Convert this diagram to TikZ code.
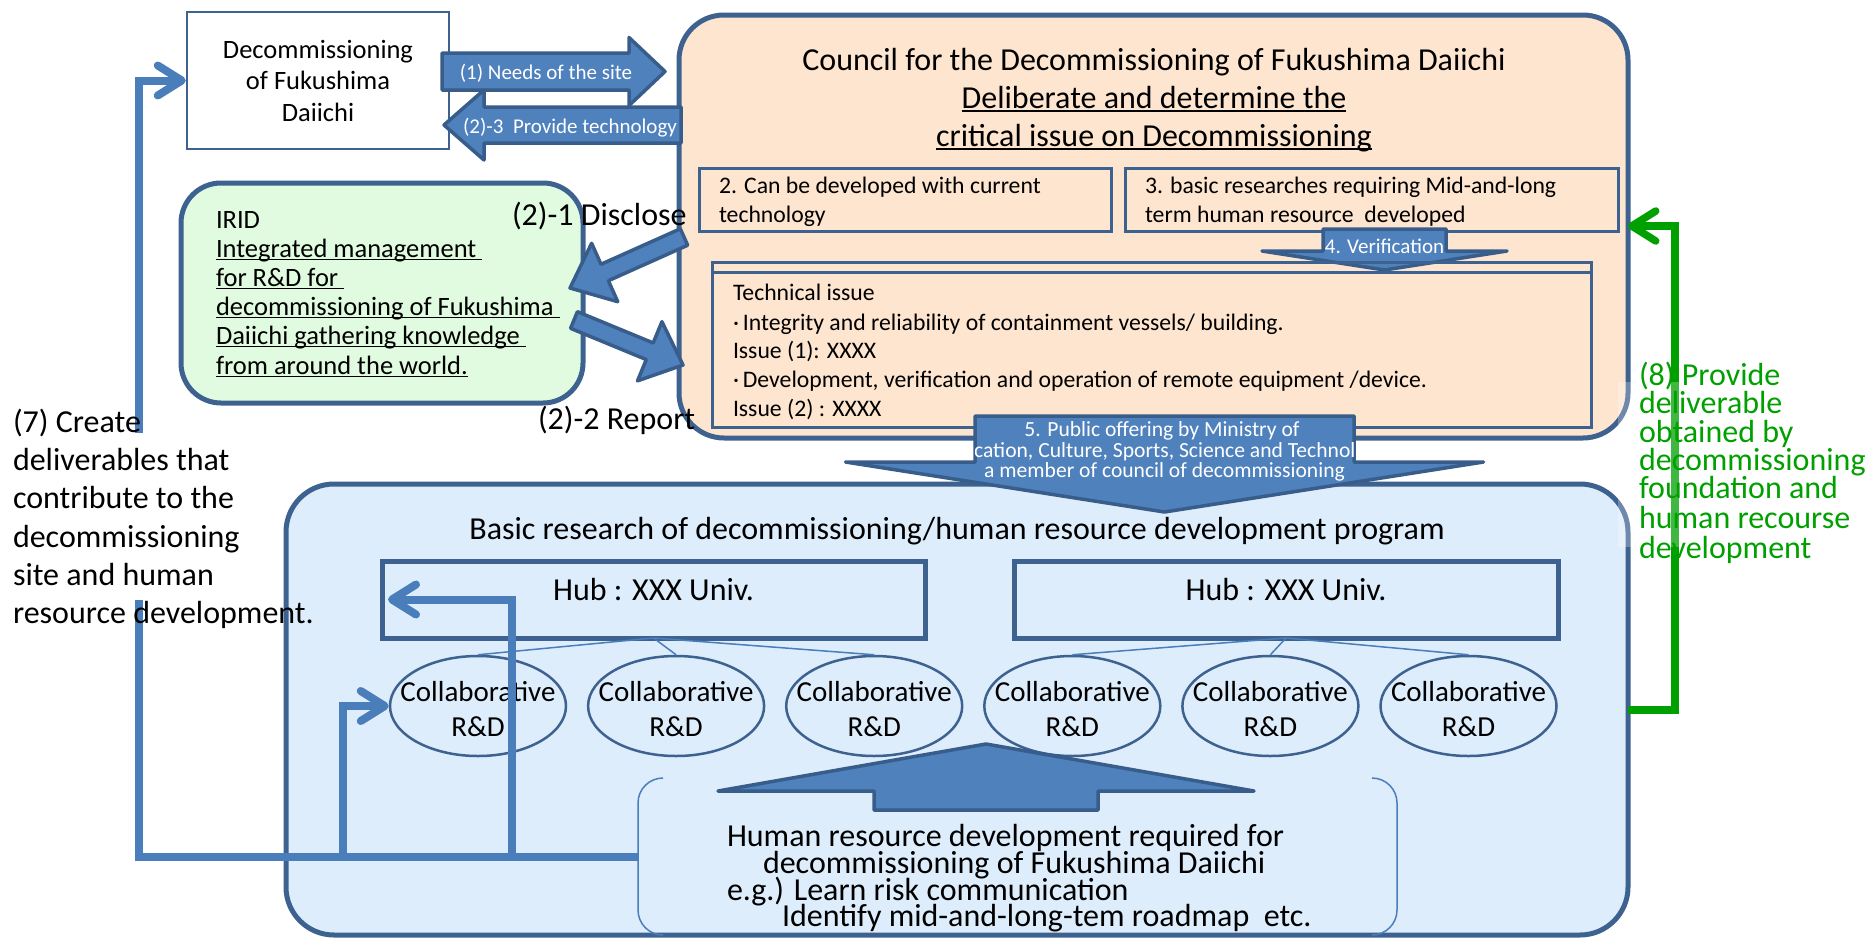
\documentclass[tikz,border=0pt]{standalone}
\usepackage{fontspec}
\setmainfont{Carlito}
\usetikzlibrary{calc,arrows.meta,shapes.geometric}
\definecolor{arrfill}{HTML}{4F81BD}
\definecolor{arrline}{HTML}{385D8A}
\definecolor{boxline}{HTML}{3E6290}
\definecolor{conn}{HTML}{4A7EBB}
\definecolor{peach}{HTML}{FDE5CF}
\definecolor{mint}{HTML}{E0FBDF}
\definecolor{skyfill}{HTML}{DEEDFC}
\definecolor{grn}{HTML}{00A000}
\newcommand\fsz[2]{\fontsize{#1pt}{#2pt}\selectfont}
\newcommand\myul[1]{\setbox0=\hbox{#1}\leavevmode\rlap{\rule[-0.12em]{\wd0}{0.055em}}\box0}
\newcommand\blockarrow[6]{%
  \coordinate (#2h) at ($(#3)!#6!(#2)$);
  \path[#1] ($(#2)!#4!90:(#3)$) -- ($(#2h)!#4!90:(#3)$) -- ($(#2h)!#5!90:(#3)$) -- (#3)
    -- ($(#2h)!#5!-90:(#3)$) -- ($(#2h)!#4!-90:(#3)$) -- ($(#2)!#4!-90:(#3)$) -- cycle;}
\begin{document}
\begin{tikzpicture}[x=1pt,y=-1pt,
  tx/.style={inner sep=0pt,outer sep=0pt},
  f32/.style={font=\fsz{32}{38}},
  f26/.style={font=\fsz{26.5}{31.5}},
  f24/.style={font=\fsz{23.7}{28}},
  f29/.style={font=\fsz{29}{35}},
  f21/.style={font=\fsz{21}{21}},
  f22/.style={font=\fsz{21.6}{21}},
  bigbox/.style={draw=boxline,line width=5pt,inner sep=0pt,outer sep=0pt},
  midbox/.style={draw=boxline,line width=3pt,inner sep=0pt,outer sep=0pt},
  hubbox/.style={draw=boxline,line width=5pt,inner sep=0pt,outer sep=0pt},
  ell/.style={ellipse,draw=boxline,line width=2.5pt,inner sep=0pt,minimum width=176pt,minimum height=100pt},
  blk/.style={fill=arrfill,draw=arrline,line width=3.5pt,line join=round},
  brk/.style={draw=conn,line width=1.5pt,rounded corners=25pt},
  hubline/.style={draw=conn,line width=1.5pt},
  c7line/.style={draw=conn,line width=8pt},
  g8line/.style={draw=grn,line width=7.5pt},
  chev/.style={-{Straight Barb[length=24pt,width=30pt,round]}}
]
\useasboundingbox (0,0) rectangle (1868,937);
\fill[white] (0,0) rectangle (1868,937);

% ---- main boxes
\node[bigbox,fill=skyfill,rounded corners=48pt,minimum width=1342pt,minimum height=451pt] (bottom) at (957,709.5) {};
\node[bigbox,fill=peach,rounded corners=45pt,minimum width=949pt,minimum height=423pt] (council) at (1153.5,226.5) {};
\node[bigbox,fill=mint,rounded corners=40pt,minimum width=402pt,minimum height=220pt] (irid) at (382,293) {};
\node[draw=boxline,line width=2.5pt,fill=white,minimum width=262pt,minimum height=137pt,inner sep=0pt,align=center,f26] (dec) at (318,80.5) {Decommissioning\\of Fukushima\\Daiichi};

% ---- council contents
\node[tx,anchor=base,f32] (ct1) at (1154,70) {Council for the Decommissioning of Fukushima Daiichi};
\node[tx,anchor=base,f32] (ct2) at (1154,108) {\myul{Deliberate and determine the}};
\node[tx,anchor=base,f32] (ct3) at (1154,146) {\myul{critical issue on Decommissioning}};
\node[midbox,minimum width=412pt,minimum height=63pt] (box2) at (905,199.5) {};
\node[midbox,minimum width=493pt,minimum height=63pt] (box3) at (1371.5,199.5) {};
\node[tx,anchor=base west,f24] (b2a) at (719,193) {2. Can be developed with current};
\node[tx,anchor=base west,f24] (b2b) at (719,222) {technology};
\node[tx,anchor=base west,f24] (b3a) at (1145,193) {3. basic researches requiring Mid-and-long};
\node[tx,anchor=base west,f24] (b3b) at (1145,222) {term human resource\ \ developed};
\coordinate (vT) at (1384.5,229);
\coordinate (vP) at (1384.5,270);
\blockarrow{blk}{vT}{vP}{61.5pt}{122.5pt}{19pt}
\node[tx,anchor=base,f21,text=white] (vtx) at (1384.5,253) {4. Verification};
\node[midbox,minimum width=879pt,minimum height=165pt] (tech) at (1151.5,344.5) {};
\draw[draw=boxline,line width=3pt] ($(tech.north west)+(0,10)$) -- ($(tech.north east)+(0,10)$);
\node[tx,anchor=base west,f24] (tc1) at (733,300) {Technical issue};
\node[tx,anchor=base west,f24] (tc2) at (733,330) {·\,Integrity and reliability of containment vessels/ building.};
\node[tx,anchor=base west,f24] (tc3) at (733,358) {Issue (1): XXXX};
\node[tx,anchor=base west,f24] (tc4) at (733,387) {·\,Development, verification and operation of remote equipment /device.};
\node[tx,anchor=base west,f24] (tc5) at (733,416) {Issue (2) : XXXX};

% ---- IRID contents
\node[tx,anchor=base west,f26] (ir1) at (216,228) {IRID};
\node[tx,anchor=base west,f26] (ir2) at (216,257) {\myul{Integrated management\ }};
\node[tx,anchor=base west,f26] (ir3) at (216,286) {\myul{for R\&D for\ }};
\node[tx,anchor=base west,f26] (ir4) at (216,315) {\myul{decommissioning of Fukushima\ }};
\node[tx,anchor=base west,f26] (ir5) at (216,344) {\myul{Daiichi gathering knowledge\ }};
\node[tx,anchor=base west,f26] (ir6) at (216,374) {\myul{from around the world.}};

% ---- bottom box contents
\node[tx,anchor=base,f32] (btitle) at (957,539) {Basic research of decommissioning/human resource development program};
\node[hubbox,minimum width=543pt,minimum height=77pt] (hubL) at (653.5,599.5) {};
\node[hubbox,minimum width=544pt,minimum height=77pt] (hubR) at (1286,599.5) {};
\node[tx,anchor=base,f32] (hubLt) at (653.5,600) {Hub : XXX Univ.};
\node[tx,anchor=base,f32] (hubRt) at (1286,600) {Hub : XXX Univ.};
\foreach \i/\xx in {1/478,2/676.1,3/874.2,4/1072.3,5/1270.4,6/1468.5}{
  \node[ell] (e\i) at (\xx,706) {};
}
\foreach \i in {1,2,3}{\draw[hubline] (hubL.south) -- (e\i.north);}
\foreach \i in {4,5,6}{\draw[hubline] (hubR.south) -- (e\i.north);}
\foreach \i/\xx in {1/478,2/676.1,3/874.2,4/1072.3,5/1270.4,6/1468.5}{
  \node[tx,anchor=base,f29] (e\i a) at (\xx,701) {Collaborative};
  \node[tx,anchor=base,f29] (e\i b) at (\xx,736) {R\&D};
}
\node[minimum width=759pt,minimum height=157pt,inner sep=0pt,outer sep=0pt] (bracket) at (1017.5,856.5) {};
\draw[brk] ([xshift=25pt]bracket.north west) -- (bracket.north west) -- (bracket.south west) -- ([xshift=25pt]bracket.south west);
\draw[brk] ([xshift=-25pt]bracket.north east) -- (bracket.north east) -- (bracket.south east) -- ([xshift=-25pt]bracket.south east);
\node[tx,anchor=base west,font=\fsz{32}{27}] (hr1) at (727,846) {Human resource development required for};
\node[tx,anchor=base west,font=\fsz{32}{27}] (hr2) at (763,873) {decommissioning of Fukushima Daiichi};
\node[tx,anchor=base west,font=\fsz{32}{27}] (hr3) at (727,900) {e.g.) Learn risk communication};
\node[tx,anchor=base west,font=\fsz{32}{27}] (hr4) at (782,926) {Identify mid-and-long-tem roadmap\ \ etc.};

% ---- block arrows
\coordinate (nT) at (442,71.5);  \coordinate (nP) at (665,71.5);
\blockarrow{blk}{nT}{nP}{18.5pt}{34pt}{36pt}
\node[tx,anchor=base,f21,text=white] (needs) at (546,79) {(1) Needs of the site};
\coordinate (pT) at (681,125);  \coordinate (pP) at (444,125);
\blockarrow{blk}{pT}{pP}{18pt}{35pt}{40pt}
\node[tx,anchor=base,f21,text=white] (prov) at (570,133) {(2)-3\ \ Provide technology};
\coordinate (dT) at (684,237);  \coordinate (dP) at (570,288);
\blockarrow{blk}{dT}{dP}{9pt}{32pt}{38pt}
\coordinate (rT) at (574,320);  \coordinate (rP) at (683,365);
\blockarrow{blk}{rT}{rP}{9pt}{32pt}{36pt}
\node[tx,anchor=base west,f32] (disc) at (512,225) {(2)-1 Disclose};
\node[tx,anchor=base west,f32] (rep) at (538,429) {(2)-2 Report};
\coordinate (oT) at (1164.5,416);  \coordinate (oP) at (1164.5,512);
\blockarrow{blk}{oT}{oP}{189.5pt}{319pt}{50pt}
\node[tx,anchor=base,f22,text=white] (pub1) at (1162,436) {5. Public offering by Ministry of};
\begin{scope}
  \clip (975,400) rectangle (1354,470);
  \node[tx,anchor=base,f22,text=white] (pub2) at (1164,457) {Education, Culture, Sports, Science and Technology};
\end{scope}
\node[tx,anchor=base,f22,text=white] (pub3) at (1164.5,477) {a member of council of decommissioning};
\coordinate (uT) at (986,810);  \coordinate (uP) at (986,744);
\blockarrow{blk}{uT}{uP}{112pt}{268pt}{47pt}

% ---- (7) connectors
\coordinate (c7) at (139,856.5);
\coordinate (jC) at (343,856.5);
\coordinate (jB) at (512,856.5);
\draw[c7line,chev] (bracket.west) -- (c7) |- (dec.west);
\draw[c7line,chev] (jB) |- ([xshift=6pt]hubL.west);
\draw[c7line,chev] (jC) |- (e1.west);
\fill[white] (0,433) rectangle (282,600);
\node[tx,anchor=base west,f32] (s1) at (13,432) {(7) Create};
\node[tx,anchor=base west,f32] (s2) at (13,470) {deliverables that};
\node[tx,anchor=base west,f32] (s3) at (13,508) {contribute to the};
\node[tx,anchor=base west,f32] (s4) at (13,547) {decommissioning};
\node[tx,anchor=base west,f32] (s5) at (13,585) {site and human};
\node[tx,anchor=base west,f32] (s6) at (13,623) {resource development.};

% ---- (8) connector
\coordinate (g2) at (1675,710);
\coordinate (g3) at (1675,226);
\draw[g8line,chev] (g2 -| bottom.east) -- (g2) -- (g3) -- (g3 -| council.east);
\fill[white,opacity=0.25] (1618,382) rectangle (1868,547);
\node[tx,anchor=base west,f32,text=grn] (p1) at (1639,385) {(8) Provide};
\node[tx,anchor=base west,f32,text=grn] (p2) at (1639,413) {deliverable};
\node[tx,anchor=base west,f32,text=grn] (p3) at (1639,442) {obtained by};
\node[tx,anchor=base west,f32,text=grn] (p4) at (1639,470) {decommissioning};
\node[tx,anchor=base west,f32,text=grn] (p5) at (1639,498) {foundation and};
\node[tx,anchor=base west,f32,text=grn] (p6) at (1639,528) {human recourse};
\node[tx,anchor=base west,f32,text=grn] (p7) at (1639,558) {development};
\end{tikzpicture}
\end{document}
